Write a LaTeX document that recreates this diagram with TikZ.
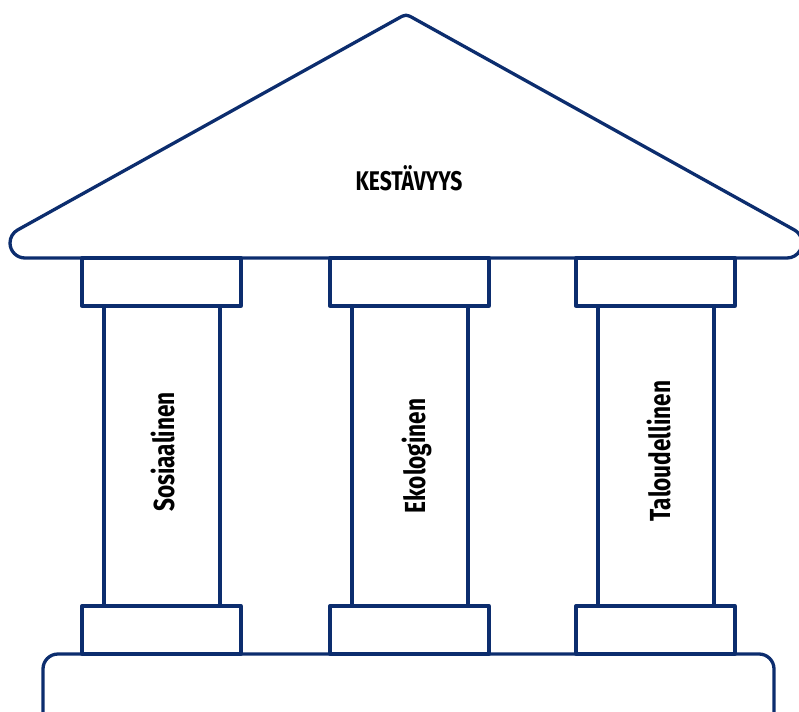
\documentclass[tikz,border=0pt]{standalone}
\usepackage{fontspec}
\newfontfamily\labelfont[FakeStretch=0.78]{Fira Sans Bold}
\definecolor{navy}{RGB}{12,45,110}
\begin{document}
\begin{tikzpicture}[x=1pt,y=-1pt,
  outline/.style={draw=navy,line width=3.3pt,line join=round},
  roofcap/.style={font=\labelfont\fontsize{27}{31}\selectfont,inner sep=0pt,anchor=base},
  pillarcap/.style={font=\labelfont\fontsize{29}{34}\selectfont,inner sep=0pt,anchor=base,rotate=90}]
\useasboundingbox (0,0) rectangle (799,711);
\clip (0,0) rectangle (799,711);
% roof
\draw[outline] (397.3,18.9) .. controls (406,14) .. (414.7,18.9)
  -- (794.3,229.9) arc[start angle=-60.9,end angle=90,radius=15]
  -- (25,258) arc[start angle=90,end angle=240.9,radius=15] -- cycle;
\node[roofcap] (roof) at (409,191) {KESTÄVYYS};
% plinth
\draw[outline,rounded corners=15pt] (43,654) rectangle (774,740);
% columns: capital, shaft, base block
\foreach \x/\n in {82/a,330/b,576/c}{
  \draw[outline] (\x,258) rectangle ++(159,48);
  \draw[outline] (\x+22,306) rectangle ++(116,300);
  \draw[outline] (\x,606) rectangle ++(159,48);
}
\node[pillarcap] (social) at (174,452) {Sosiaalinen};
\node[pillarcap] (eco) at (425,456) {Ekologinen};
\node[pillarcap] (econ) at (670,451) {Taloudellinen};
\end{tikzpicture}
\end{document}
